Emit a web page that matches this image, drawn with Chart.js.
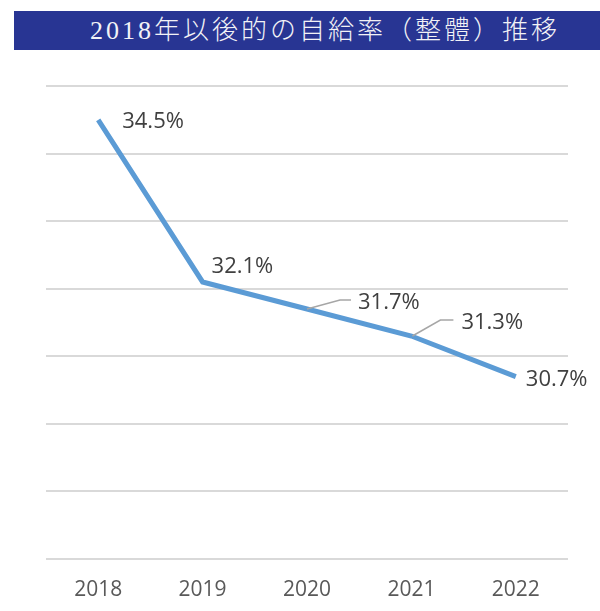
<!DOCTYPE html>
<html>
<head>
<meta charset="utf-8">
<script src="https://cdn.jsdelivr.net/npm/chart.js@4"></script>
<style>
  html, body { margin: 0; padding: 0; background: #ffffff; }
  #wrap { position: relative; width: 600px; height: 611px; }
  #title {
    position: absolute; left: 14px; top: 11px; width: 586px; height: 39px;
    background: #283593; color: #f2f2f6;
    font-family: "Liberation Serif", "Noto Sans CJK JP", serif;
    font-size: 26px; font-weight: 300; line-height: 39px; letter-spacing: 3px;
    padding-left: 76px; box-sizing: border-box; white-space: nowrap;
  }
  canvas { position: absolute; left: 0; top: 0; }
</style>
</head>
<body>
<div id="wrap">
  <canvas id="c" width="600" height="611"></canvas>
  <div id="title">2018年以後的の自給率（整體）推移</div>
</div>
<script>
const titleText = "2018年以後的の自給率（整體）推移";
const categories = ["2018", "2019", "2020", "2021", "2022"];
const selfSufficiency = [34.5, 32.1, 31.7, 31.3, 30.7];
const yMin = 28, yMax = 35, yStep = 1;

document.getElementById('title').textContent = titleText;

const labelPlugin = {
  id: 'pointLabels',
  afterDatasetsDraw(chart, args, opts) {
    const ctx = chart.ctx;
    const meta = chart.getDatasetMeta(0);
    const ds = chart.data.datasets[0];
    ctx.save();
    meta.data.forEach((pt, i) => {
      const o = opts.offsets[i];
      if (o.leader) {
        ctx.beginPath();
        ctx.strokeStyle = '#a6a6a6';
        ctx.lineWidth = 1.5;
        ctx.moveTo(pt.x + o.leader[0][0], pt.y + o.leader[0][1]);
        for (let k = 1; k < o.leader.length; k++) ctx.lineTo(pt.x + o.leader[k][0], pt.y + o.leader[k][1]);
        ctx.stroke();
      }
      ctx.fillStyle = '#404040';
      ctx.font = '22px "Open Sans", "Liberation Sans", sans-serif';
      ctx.textAlign = 'left';
      ctx.textBaseline = 'middle';
      ctx.fillText(ds.data[i].toFixed(1) + '%', pt.x + o.dx, pt.y + o.dy);
    });
    ctx.restore();
  }
};

new Chart(document.getElementById('c'), {
  type: 'line',
  data: {
    labels: categories,
    datasets: [{
      data: selfSufficiency,
      borderColor: '#5b9bd5',
      borderWidth: 5,
      pointRadius: 0,
      tension: 0,
      fill: false,
      clip: false
    }]
  },
  options: {
    responsive: false,
    animation: false,
    layout: { padding: { left: 46, right: 32, top: 86, bottom: 0 } },
    plugins: {
      legend: { display: false },
      tooltip: { enabled: false },
      pointLabels: {
        offsets: [
          { dx: 24, dy: 2 },
          { dx: 9, dy: -15 },
          { dx: 51, dy: -6, leader: [[0, 0], [33, -9], [44, -9]] },
          { dx: 50, dy: -13, leader: [[1, 0], [29, -16], [42, -16]] },
          { dx: 10, dy: 3 }
        ]
      }
    },
    scales: {
      x: {
        offset: true,
        grid: { display: false, drawTicks: false },
        border: { display: false },
        ticks: { color: '#595959', font: { family: '"Open Sans", "Liberation Sans", sans-serif', size: 21 }, padding: 18 },
        afterFit(scale) { scale.height = 52; }
      },
      y: {
        min: yMin, max: yMax,
        ticks: { display: false, stepSize: yStep },
        grid: { color: '#d9d9d9', lineWidth: 2, drawTicks: false },
        border: { display: false }
      }
    }
  },
  plugins: [labelPlugin]
});
</script>
</body>
</html>
